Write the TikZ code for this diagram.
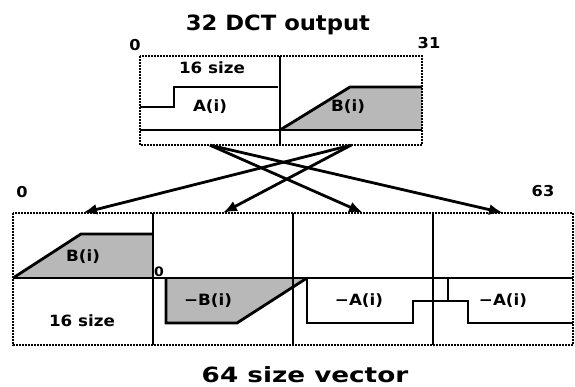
\documentclass[tikz,border=0pt]{standalone}
\usepackage{fontspec}
\setmainfont[FakeStretch=1.08]{DejaVu Sans}
\usetikzlibrary{arrows.meta,positioning}

\begin{document}
\begin{tikzpicture}[x=1pt,y=-1pt,
  lbl/.style={font=\fontsize{15.5}{18}\selectfont\bfseries,inner sep=0pt},
  big/.style={font=\fontsize{21}{24}\selectfont\bfseries,inner sep=0pt},
  idx/.style={font=\fontsize{15}{17}\selectfont\bfseries,inner sep=0pt},
  col/.style={inner sep=0pt,minimum width=140pt},
  frame/.style={line width=1.4pt,dash pattern=on 2pt off 1pt},
  sig/.style={line width=2.8pt},
  shade/.style={fill=black!28},
  map/.style={line width=2.8pt,-{Latex[length=14pt,width=11pt]}}]
\useasboundingbox (0,0) rectangle (575,387);

% column anchors
\node[col,minimum height=89pt] (topA) at (210,100.5) {};
\node[col,minimum height=89pt] (topB) at (351,100.5) {};
\foreach \i/\cx in {1/83,2/223,3/363,4/503}
  \node[col,minimum height=132pt] (bot\i) at (\cx,279) {};

% 32 DCT output
\fill[shade] (280,130) -- (350,87) -- (422,87) -- (422,130) -- cycle;
\draw[sig] (140,107) -- (174,107) -- (174,87) -- (278,87);
\draw[sig] (280,130) -- (350,87) -- (422,87);
\draw[sig] (140,130) -- (422,130);
\draw[line width=1.3pt] (280,56) -- (280,145);
\draw[frame] (140,56) rectangle (422,145);

% 64 size vector
\fill[shade] (13,278) -- (81,234) -- (153,234) -- (153,278) -- cycle;
\fill[shade] (166,278) -- (307,278) -- (237,323) -- (166,323) -- cycle;
\draw[sig] (13,278) -- (81,234) -- (153,234);
\draw[sig] (166,278) -- (166,323) -- (237,323) -- (307,278);
\draw[sig] (307,278) -- (307,323) -- (413,323) -- (413,301)
  -- (468,301) -- (468,323) -- (573,323);
\draw[sig] (448,278) -- (448,301);
\draw[sig] (13,278) -- (573,278);
\foreach \x in {153,293,433}
  \draw[line width=1.3pt] (\x,213) -- (\x,345);
\draw[frame] (13,213) rectangle (573,345);

\draw[map] (topA.south) -- (bot3.north);
\draw[map] (topA.south) -- (bot4.north);
\draw[map] (topB.south) -- (bot1.north);
\draw[map] (topB.south) -- (bot2.north);

\node[big] (title) at (278,25) {32 DCT output};
\node[big] (vec) at (305,375) {\addfontfeature{FakeStretch=1.25}64 size vector};
\node[idx] (t0) at (135,45) {0};
\node[idx] (t31) at (429,43) {31};
\node[idx] (b0) at (22,192) {0};
\node[idx] (b63) at (543,191) {63};
\node[idx,font=\fontsize{13}{15}\selectfont\bfseries] (m0) at (159,272) {0};
\node[lbl] (tsz) at (212,68) {16 size};
\node[lbl] (ta) at (210,107) {A(i)};
\node[lbl] (tb) at (348,107) {B(i)};
\node[lbl] (bb) at (83,257) {B(i)};
\node[lbl] (bmb) at (208,301) {−B(i)};
\node[lbl] (bma) at (359,301) {−A(i)};
\node[lbl] (bma2) at (503,301) {−A(i)};
\node[lbl] (bsz) at (82,321) {16 size};
\end{tikzpicture}
\end{document}
